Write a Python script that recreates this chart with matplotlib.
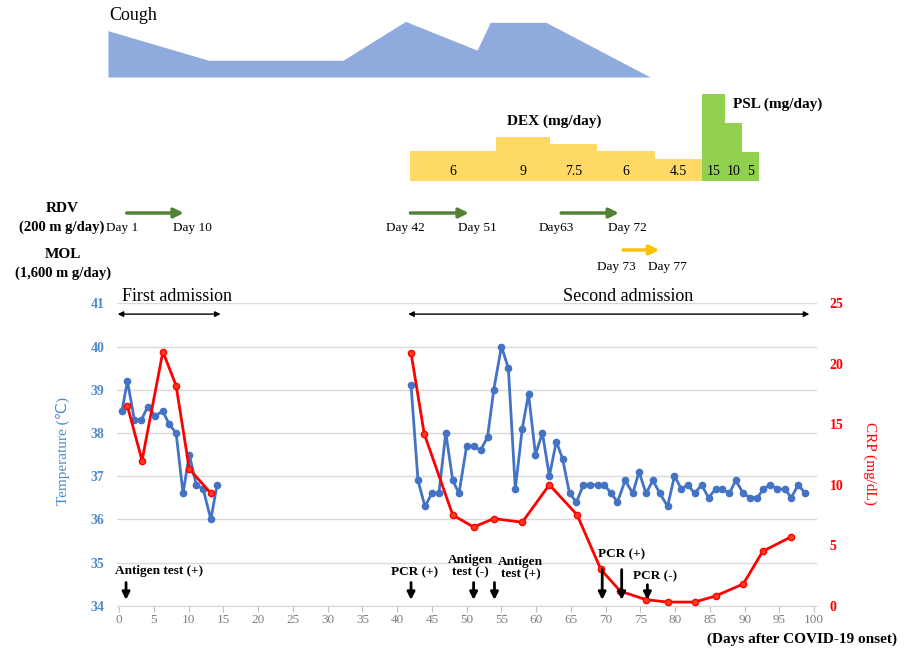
import matplotlib.pyplot as plt

plt.rcParams['font.family'] = ['Liberation Serif', 'DejaVu Sans']

# ---------------- data ----------------
cough_days = [-1.6, 12.9, 32.2, 41.2, 51.5, 53.4, 61.4, 76.4]
cough_level = [2.5, 0.9, 0.9, 3.0, 1.45, 2.95, 2.95, 0]

dex_edges = [41.9, 54.2, 62.0, 68.8, 77.1, 83.8]
dex_dose = [6, 9, 7.5, 6, 4.5]
psl_edges = [83.8, 87.2, 89.6, 92.0]
psl_dose = [15, 10, 5]

rdv_spans = [(0.7, 9.7), (41.5, 50.7), (63.2, 72.3)]
rdv_labels = [('Day 1', 'Day 10'), ('Day 42', 'Day 51'), ('Day63', 'Day 72')]
mol_span = (72.1, 78.1)
mol_labels = ('Day 73', 'Day 77')

temp_days1 = [0.4, 1.2, 2.2, 3.2, 4.1, 5.2, 6.3, 7.2, 8.2, 9.2, 10.1, 11.1, 12.1, 13.2, 14.1]
temp1 = [38.5, 39.2, 38.3, 38.3, 38.6, 38.4, 38.5, 38.2, 38.0, 36.6, 37.5, 36.8, 36.7, 36.0, 36.8]
temp_days2 = [42.0, 43.0, 44.0, 45.0, 46.0, 47.0, 48.0, 48.9, 50.0, 51.0, 52.0, 53.0, 53.9, 55.0,
              56.0, 57.0, 58.0, 58.9, 59.9, 60.9, 61.9, 62.9, 63.8, 64.8, 65.8, 66.8, 67.8, 68.9,
              69.8, 70.8, 71.7, 72.8, 73.9, 74.8, 75.8, 76.8, 77.8, 78.9, 79.9, 80.9, 81.8, 82.8,
              83.8, 84.8, 85.8, 86.8, 87.8, 88.7, 89.8, 90.8, 91.8, 92.7, 93.7, 94.7, 95.8, 96.7,
              97.7, 98.7]
temp2 = [39.1, 36.9, 36.3, 36.6, 36.6, 38.0, 36.9, 36.6, 37.7, 37.7, 37.6, 37.9, 39.0, 40.0,
         39.5, 36.7, 38.1, 38.9, 37.5, 38.0, 37.0, 37.8, 37.4, 36.6, 36.4, 36.8, 36.8, 36.8,
         36.8, 36.6, 36.4, 36.9, 36.6, 37.1, 36.6, 36.9, 36.6, 36.3, 37.0, 36.7, 36.8, 36.6,
         36.8, 36.5, 36.7, 36.7, 36.6, 36.9, 36.6, 36.5, 36.5, 36.7, 36.8, 36.7, 36.7, 36.5,
         36.8, 36.6]

crp_days1 = [1.2, 3.3, 6.3, 8.2, 10.1, 13.2]
crp1 = [16.5, 12.0, 21.0, 18.2, 11.3, 9.3]
crp_days2 = [42.0, 43.9, 48.0, 51.0, 53.9, 58.0, 61.9, 65.9, 69.3, 72.1, 75.8, 78.9, 82.8,
             85.8, 89.8, 92.6, 96.7]
crp2 = [20.9, 14.2, 7.5, 6.5, 7.2, 6.9, 10.0, 7.5, 3.0, 1.2, 0.5, 0.3, 0.3, 0.8, 1.8, 4.5, 5.7]

# test name, label position (day, temp), arrow days, arrow top temp
tests = [('Antigen test (+)', (5.7, 34.8), [1], 34.6),
         ('PCR (+)', (42.5, 34.77), [42], 34.6),
         ('Antigen\ntest (-)', (50.5, 34.92), [51], 34.6),
         ('Antigen\ntest (+)', (57.8, 34.87), [54], 34.6),
         ('PCR (+)', (72.3, 35.2), [69.5, 72.3], 34.9),
         ('PCR (-)', (77.1, 34.69), [76], 34.55)]

# ---------------- layout ----------------
W_PX, H_PX = 906, 650
X0, X1 = 117, 817
XLIM = (-0.3, 100.4)
BLUE = '#4472C4'
BLUE_TXT = '#4F8BCB'
RED = '#FF0000'

fig = plt.figure(figsize=(W_PX / 100, H_PX / 100), dpi=100)


def band(top, bottom):
    a = fig.add_axes([X0 / W_PX, 1 - bottom / H_PX, (X1 - X0) / W_PX, (bottom - top) / H_PX])
    a.set_xlim(*XLIM)
    a.patch.set_visible(False)
    return a


# cough
cax = band(14, 77)
cax.set_ylim(0, 3.4)
cax.axis('off')
cax.fill_between(cough_days, cough_level, 0, color='#8FAADC', lw=0, clip_on=False)
cax.text(-1.4, 3.3, 'Cough', fontsize=13, va='center', ha='left')

# steroids
sax = band(80, 180.7)
sax.set_ylim(0, 20.55)
sax.axis('off')
pax = sax.twinx()
pax.set_ylim(0, 17.4)
pax.axis('off')
for i, d in enumerate(dex_dose):
    sax.bar(dex_edges[i], d, width=dex_edges[i + 1] - dex_edges[i], align='edge', color='#FFD966', lw=0)
    sax.annotate(f'{d:g}', ((dex_edges[i] + dex_edges[i + 1]) / 2, 0), xytext=(0, 6.5),
                 textcoords='offset points', ha='center', va='center', fontsize=10)
for i, d in enumerate(psl_dose):
    pax.bar(psl_edges[i], d, width=psl_edges[i + 1] - psl_edges[i], align='edge', color='#92D050', lw=0)
    pax.annotate(f'{d:g}', ((psl_edges[i] + psl_edges[i + 1]) / 2, 0), xytext=(0, 6.5),
                 textcoords='offset points', ha='center', va='center', fontsize=10)
sax.text(62.6, 12.2, 'DEX (mg/day)', ha='center', va='center', fontsize=11, fontweight='bold')
sax.text(94.7, 15.65, 'PSL (mg/day)', ha='center', va='center', fontsize=11, fontweight='bold',
         clip_on=False)

# antiviral drugs (lane axes in pixel rows)
dax = band(190, 285)
dax.set_ylim(285, 190)
dax.axis('off')
RDV_Y, MOL_Y = 213, 250
for (s, e), (ls, le) in zip(rdv_spans, rdv_labels):
    dax.annotate('', xy=(e, RDV_Y), xytext=(s, RDV_Y),
                 arrowprops=dict(arrowstyle='-|>', color='#548235', lw=2.5, mutation_scale=14))
    dax.text(s - 0.3, RDV_Y + 15, ls, ha='center', va='center', fontsize=9.5)
    dax.text(e + 0.8, RDV_Y + 15, le, ha='center', va='center', fontsize=9.5)
dax.annotate('', xy=(mol_span[1], MOL_Y), xytext=(mol_span[0], MOL_Y),
             arrowprops=dict(arrowstyle='-|>', color='#FFC000', lw=2.5, mutation_scale=14))
dax.text(mol_span[0] - 0.5, MOL_Y + 17, mol_labels[0], ha='center', va='center', fontsize=9.5)
dax.text(mol_span[1] + 0.8, MOL_Y + 17, mol_labels[1], ha='center', va='center', fontsize=9.5)
dax.text(-8.1, 208, 'RDV', ha='center', va='center', fontsize=11, fontweight='bold', clip_on=False)
dax.text(-8.3, 227, '(200 m g/day)', ha='center', va='center', fontsize=10.5, fontweight='bold',
         clip_on=False)
dax.text(-8.1, 254, 'MOL', ha='center', va='center', fontsize=11, fontweight='bold', clip_on=False)
dax.text(-8.1, 273, '(1,600 m g/day)', ha='center', va='center', fontsize=10.5, fontweight='bold',
         clip_on=False)

# main chart
ax = fig.add_axes([X0 / W_PX, 1 - 605.7 / H_PX, (X1 - X0) / W_PX, (605.7 - 303.3) / H_PX])
ax.set_xlim(*XLIM)
ax.set_ylim(34, 41)
ax.set_yticks(range(34, 42))
ax.set_xticks(range(0, 101, 5))
ax.grid(axis='y', color='#D9D9D9', lw=1)
ax.set_axisbelow(True)
for sp in ['top', 'left', 'right']:
    ax.spines[sp].set_visible(False)
ax.spines['bottom'].set_color('#D9D9D9')
ax.tick_params(axis='x', length=4, color='#BFBFBF', labelcolor='#7F7F7F', labelsize=9.5, pad=2)
ax.tick_params(axis='y', length=0, labelcolor=BLUE_TXT, labelsize=10, pad=9)
for lbl in ax.get_yticklabels():
    lbl.set_fontweight('bold')

ax.plot(temp_days1, temp1, color=BLUE, lw=2, marker='o', ms=4.5)
ax.plot(temp_days2, temp2, color=BLUE, lw=2, marker='o', ms=4.5)

ax2 = ax.twinx()
ax2.set_xlim(*XLIM)
ax2.set_ylim(0, 25)
ax2.set_yticks(range(0, 26, 5))
for sp in ax2.spines.values():
    sp.set_visible(False)
ax2.tick_params(axis='y', length=0, labelcolor=RED, labelsize=10, pad=9)
for lbl in ax2.get_yticklabels():
    lbl.set_fontweight('bold')
ax2.plot(crp_days1, crp1, color=RED, lw=2, marker='o', ms=4.5, mfc='#FF3B1F', mec=RED)
ax2.plot(crp_days2, crp2, color=RED, lw=2, marker='o', ms=4.5, mfc='#FF3B1F', mec=RED)

# tests
for label, (lx, ly), days, top in tests:
    ax2.text(lx, ly, label, transform=ax.transData, ha='center', va='center', fontsize=9.5,
             fontweight='bold', multialignment='center', linespacing=1.1)
    for d in days:
        ax2.annotate('', xy=(d, 34.07), xytext=(d, top), xycoords=ax.transData,
                     textcoords=ax.transData,
                     arrowprops=dict(arrowstyle='-|>', color='black', lw=2, mutation_scale=11))

# admissions
ax2.annotate('', xy=(15, 40.75), xytext=(-0.6, 40.75), xycoords=ax.transData, textcoords=ax.transData,
             arrowprops=dict(arrowstyle='<|-|>', color='black', lw=1, mutation_scale=8))
ax2.annotate('', xy=(99.7, 40.75), xytext=(41.2, 40.75), xycoords=ax.transData, textcoords=ax.transData,
             arrowprops=dict(arrowstyle='<|-|>', color='black', lw=1, mutation_scale=8))
ax2.text(8.3, 41.15, 'First admission', transform=ax.transData, ha='center', va='center', fontsize=13)
ax2.text(73.2, 41.15, 'Second admission', transform=ax.transData, ha='center', va='center', fontsize=13)

# axis titles
fig.text(63 / W_PX, 1 - 451 / H_PX, 'Temperature (℃)', rotation=90, ha='center', va='center',
         color=BLUE_TXT, fontsize=11)
fig.text(870 / W_PX, 1 - 463 / H_PX, 'CRP (mg/dL)', rotation=270, ha='center', va='center',
         color=RED, fontsize=11)
fig.text(897 / W_PX, 1 - 639 / H_PX, '(Days after COVID-19 onset)', ha='right', va='center',
         fontsize=11, fontweight='bold')

fig.savefig('out.png', dpi=100)
